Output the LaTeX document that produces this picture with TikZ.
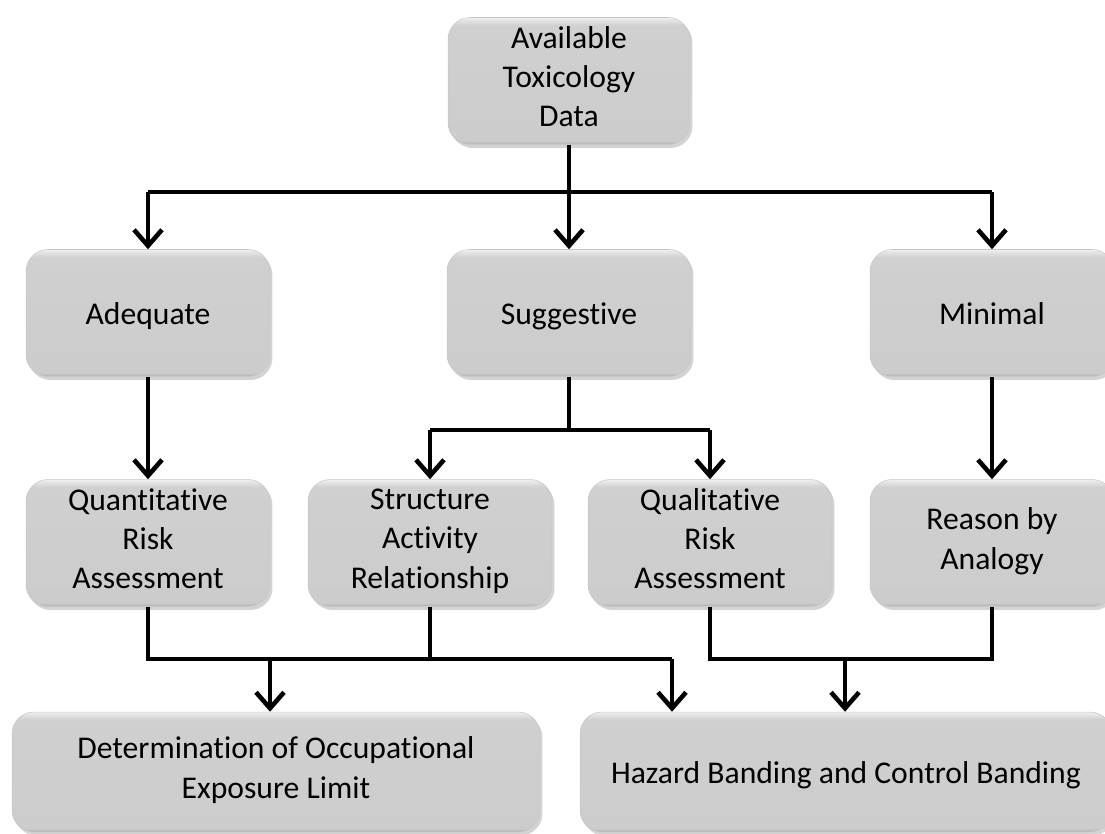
\documentclass[tikz,border=0pt]{standalone}
\usepackage{fontspec}
\setmainfont{Carlito}[Ligatures={NoCommon}]
\usetikzlibrary{arrows.meta,shadows}
\pgfdeclareverticalshading{bevel}{100bp}{color(0bp)=(gray!62); color(25bp)=(gray!62); color(26.5bp)=(gray!40); color(72bp)=(gray!37); color(75bp)=(gray!12); color(100bp)=(gray!12)}
\begin{document}
\begin{tikzpicture}[x=0.02cm,y=-0.02cm,
  box/.style={rectangle,rounded corners=0.44cm,shading=bevel,draw=gray!45,line width=0.3pt,
    minimum width=4.88cm,minimum height=2.54cm,align=center,
    font=\fontsize{18}{22.4}\selectfont,
    execute at begin node={\rule{0pt}{18.4pt}},execute at end node={\rule[-5pt]{0pt}{5pt}},
    drop shadow={shadow xshift=0.05cm,shadow yshift=-0.07cm,opacity=0.35}},
  line/.style={line width=2.6pt,line join=miter},
  arr/.style={line width=2.6pt,-{Straight Barb[length=0.32cm,width=0.56cm,line width=2.6pt]}}]
\useasboundingbox (0,0) rectangle (1105,834);
\clip (0,0) rectangle (1105,834);
% boxes
\node[box,minimum width=4.84cm] (data) at (569,81) {Available\\Toxicology\\Data};
\node[box] (adequate) at (148,313) {Adequate};
\node[box] (suggestive) at (569,313) {Suggestive};
\node[box] (minimal) at (992,313) {Minimal};
\node[box] (quant) at (148,543) {Quantitative\\Risk\\Assessment};
\node[box] (struct) at (430,543) {Structure\\Activity\\Relationship};
\node[box] (qual) at (710,543) {Qualitative\\Risk\\Assessment};
\node[box] (reason) at (992,543) {Reason by\\Analogy};
\node[box,minimum width=10.56cm,minimum height=2.4cm] (determ) at (276,772) {Determination of Occupational\\Exposure Limit};
\node[box,minimum width=10.64cm,minimum height=2.4cm] (hazard) at (846,772) {Hazard Banding and Control Banding};
% split points
\coordinate (topsplit) at (569,192);
\coordinate (sugsplit) at (569,430);
\coordinate (j1) at (270,659);
\coordinate (j2) at (672,659);
\coordinate (j3) at (845,659);
% connectors
\draw[line] (data) -- (topsplit);
\draw[line] (adequate.north |- topsplit) -- (minimal.north |- topsplit);
\foreach \n in {adequate,suggestive,minimal}
  \draw[arr] (\n.north |- topsplit) -- (\n.north);
\draw[arr] (adequate) -- (quant);
\draw[line] (suggestive) -- (sugsplit);
\draw[line] (struct.north |- sugsplit) -- (qual.north |- sugsplit);
\foreach \n in {struct,qual}
  \draw[arr] (\n.north |- sugsplit) -- (\n.north);
\draw[arr] (minimal) -- (reason);
\draw[line] (quant.south) |- (j2);
\draw[line] (struct.south) -- (struct.south |- j1);
\draw[line] (qual.south) |- (j3) -| (reason.south);
\draw[arr] (j1) -- (j1 |- determ.north);
\draw[arr] (j2) -- (j2 |- hazard.north);
\draw[arr] (j3) -- (j3 |- hazard.north);
\end{tikzpicture}
\end{document}
